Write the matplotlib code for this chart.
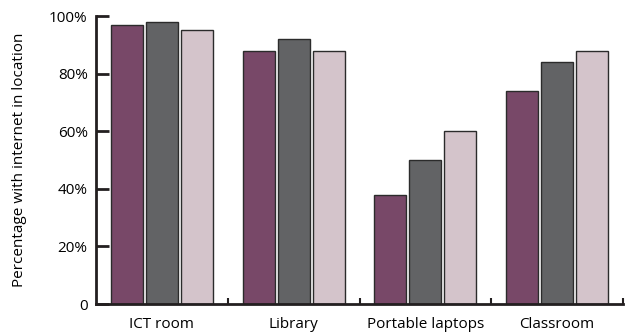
import numpy as np
import matplotlib
matplotlib.use("Agg")
import matplotlib.pyplot as plt
from matplotlib.ticker import FixedLocator

plt.rcParams['font.family'] = ['Open Sans', 'DejaVu Sans']

# Data
categories = ["ICT room", "Library", "Portable laptops", "Classroom"]
series_a = [97, 88, 38, 74]
series_b = [98, 92, 50, 84]
series_c = [95, 88, 60, 88]
y_ticks = [0, 20, 40, 60, 80, 100]
y_tick_labels = ["0", "20%", "40%", "60%", "80%", "100%"]

colors = ["#784868", "#626365", "#d4c4cb"]

fig = plt.figure(figsize=(6.31, 3.36), dpi=100)
ax = fig.add_axes([96 / 631, 32 / 336, 527 / 631, 288 / 336])

x = np.arange(len(categories))
width = 0.242
step = 0.266
for i, (vals, c) in enumerate(zip([series_a, series_b, series_c], colors)):
    ax.bar(x + (i - 1) * step, vals, width, color=c, edgecolor="#2b2b2b", linewidth=1.0)

ax.set_xlim(-0.5, len(categories) - 0.5)
ax.set_ylim(0, 100)

ax.spines['top'].set_visible(False)
ax.spines['right'].set_visible(False)
ax.spines['left'].set_linewidth(2.0)
ax.spines['bottom'].set_linewidth(2.0)
ax.spines['left'].set_color("#231f20")
ax.spines['bottom'].set_color("#231f20")

ax.set_yticks(y_ticks)
ax.set_yticklabels(y_tick_labels, fontsize=11)
ax.tick_params(axis='y', direction='in', length=9, width=2, color="#231f20", pad=6)

ax.set_xticks(x)
ax.set_xticklabels(categories, fontsize=11)
ax.tick_params(axis='x', which='major', length=0, pad=9)
ax.xaxis.set_minor_locator(FixedLocator(np.arange(0.5, len(categories), 1.0)))
ax.tick_params(axis='x', which='minor', direction='in', length=4, width=1.5, color="#231f20")

ax.set_ylabel("Percentage with internet in location", fontsize=11, labelpad=16)

fig.savefig("out.png", dpi=100)
